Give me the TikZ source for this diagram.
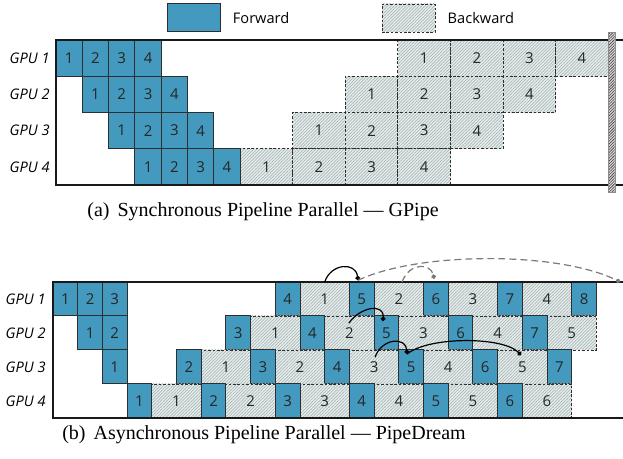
\documentclass[tikz,border=0pt]{standalone}
\usepackage{fontspec}
\setsansfont{Open Sans}
\newfontfamily\capfont{Liberation Serif}
\usetikzlibrary{arrows.meta,positioning,patterns.meta}
\definecolor{fwdblue}{HTML}{4399BE}
\definecolor{bwdfill}{HTML}{E8EEEE}
\definecolor{hatchgray}{HTML}{A9B7B7}
\definecolor{cellline}{HTML}{2E2E2E}
\definecolor{linkgray}{HTML}{7A7A7A}
\tikzset{
  fwdcell/.style={draw=cellline, fill=fwdblue, line width=0.5pt},
  bwdcell/.style={draw=cellline, line width=0.45pt, dash pattern=on 1.3pt off 0.9pt,
    preaction={fill=bwdfill}, pattern={Lines[angle=45,distance=1.1pt,line width=0.35pt]}, pattern color=hatchgray},
  slot/.style={anchor=north west, inner sep=0pt, outer sep=0pt, text=black!85, font=\sffamily\fontsize{7.5}{8}\selectfont},
  gpulabel/.style={anchor=east, inner sep=0pt, font=\sffamily\itshape\fontsize{7.3}{8}\selectfont},
  legendtext/.style={anchor=west, inner sep=0pt, font=\sffamily\fontsize{7.3}{8}\selectfont},
  capnode/.style={inner sep=0pt, font=\capfont\fontsize{10}{12}\selectfont},
  frameline/.style={line width=0.7pt, draw=black!90},
  syncarc/.style={line width=0.6pt, -{Circle[length=2.3pt]}},
  asyncarc/.style={line width=0.6pt, draw=linkgray, dash pattern=on 3.5pt off 2pt, -{Circle[length=2.3pt]}},
  barhatch/.style={draw=black!45, line width=0.3pt, preaction={fill=black!15},
    pattern={Lines[angle=45,distance=1pt,line width=0.3pt]}, pattern color=black!75}
}

\begin{document}
\begin{tikzpicture}[x=0.5pt, y=-0.5pt]
  \useasboundingbox (0,0) rectangle (623,459);

  % legend
  \node[fwdcell, minimum width=26.5pt, minimum height=14pt, inner sep=0pt] (legfwd) at (193.5,18) {};
  \node[legendtext, right=6pt of legfwd] (legfwdtext) {Forward};
  \node[bwdcell, minimum width=26.5pt, minimum height=14pt, inner sep=0pt] (legbwd) at (408.5,18) {};
  \node[legendtext, right=6pt of legbwd] (legbwdtext) {Backward};

  % (a) GPipe schedule
  \begin{scope}[shift={(56,40)}, x=13.15pt, y=-18.125pt,
      cellw/.style={minimum width=#1*13.15pt, minimum height=18.125pt}]
    \foreach \r in {0,...,3}{
      \pgfmathtruncatemacro\g{\r+1}
      \node[gpulabel, xshift=-3pt] (ga-\g) at (0,\r+0.5) {GPU \g};
      \foreach \n in {1,...,4}{
        \node[slot, bwdcell, cellw=2] (ga-\g-b\n) at (11-2*\r+2*\n,\r) {\n};
        \node[slot, fwdcell, cellw=1] (ga-\g-f\n) at (\r+\n-1,\r) {\n};
      }
    }
    \draw[frameline] (21.56,0) -- (0,0) -- (0,4) -- (21.56,4);
    \draw[barhatch] (21,-0.22) rectangle (21.25,4.19);
  \end{scope}
  \node[capnode] (capa) at (263,212) {(a)\hspace{4pt}Synchronous Pipeline Parallel — GPipe};

  % (b) PipeDream schedule
  \begin{scope}[shift={(53,282)}, x=12.35pt, y=-17pt,
      cellw/.style={minimum width=#1*12.35pt, minimum height=17pt}]
    \foreach \g/\fl/\bl in {
        1/{0/1,1/2,2/3,9/4,12/5,15/6,18/7,21/8}/{10/1,13/2,16/3,19/4},
        2/{1/1,2/2,7/3,10/4,13/5,16/6,19/7}/{8/1,11/2,14/3,17/4,20/5},
        3/{2/1,5/2,8/3,11/4,14/5,17/6,20/7}/{6/1,9/2,12/3,15/4,18/5},
        4/{3/1,6/2,9/3,12/4,15/5,18/6}/{4/1,7/2,10/3,13/4,16/5,19/6}}{
      \node[gpulabel, xshift=-3.5pt] (gb-\g) at (0,\g-0.5) {GPU \g};
      \foreach \s/\n in \bl
        \node[slot, bwdcell, cellw=2] (gb-\g-b\n) at (\s,\g-1) {\n};
      \foreach \s/\n in \fl
        \node[slot, fwdcell, cellw=1] (gb-\g-f\n) at (\s,\g-1) {\n};
    }
    \draw[frameline] (23.08,0) -- (0,0) -- (0,4) -- (23.08,4);

    % weight stashing links
    \coordinate (d1) at (12.35,-0.05);
    \coordinate (s2) at (11.98,1.21);
    \coordinate (d2) at (13.36,1.15);
    \coordinate (s3) at (13.04,2.21);
    \coordinate (d3) at (14.33,2.12);
    \coordinate (d4) at (18.95,2.15);
    \coordinate (s5) at (14.13,0);
    \coordinate (d5) at (15.43,-0.09);
    \coordinate (d6) at (22.96,0);
    \draw[syncarc] (gb-1-b1.north) .. controls (11.25,-0.55) and (12.25,-0.6) .. (d1);
    \draw[syncarc] (s2) .. controls (12.4,0.75) and (13.4,0.6) .. (d2);
    \draw[syncarc] (s3) .. controls (13.3,1.65) and (14.3,1.6) .. (d3);
    \draw[syncarc] (d3) .. controls (15.2,1.6) and (18.2,1.6) .. (d4);
    \draw[asyncarc] (s5) .. controls (14.45,-0.6) and (15.3,-0.55) .. (d5);
    \draw[asyncarc] (d1) .. controls (14.8,-0.9) and (20.5,-0.9) .. (d6);
  \end{scope}
  \node[capnode] (capb) at (264,435) {(b)\hspace{4pt}Asynchronous Pipeline Parallel — PipeDream};
\end{tikzpicture}
\end{document}
